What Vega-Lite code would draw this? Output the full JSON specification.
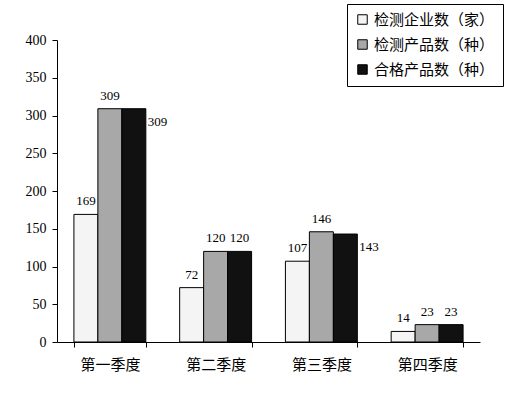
{
  "$schema": "https://vega.github.io/schema/vega-lite/v6.json",
  "width": 423,
  "height": 302,
  "autosize": {"type": "none"},
  "padding": {"left": 57, "top": 40, "right": 26, "bottom": 54},
  "background": "white",
  "config": {
    "view": {"stroke": null},
    "font": "Noto Sans CJK SC"
  },
  "data": {
    "values": [
      {"quarter": "第一季度", "series": "检测企业数（家）", "value": 169},
      {"quarter": "第一季度", "series": "检测产品数（种）", "value": 309},
      {"quarter": "第一季度", "series": "合格产品数（种）", "value": 309},
      {"quarter": "第二季度", "series": "检测企业数（家）", "value": 72},
      {"quarter": "第二季度", "series": "检测产品数（种）", "value": 120},
      {"quarter": "第二季度", "series": "合格产品数（种）", "value": 120},
      {"quarter": "第三季度", "series": "检测企业数（家）", "value": 107},
      {"quarter": "第三季度", "series": "检测产品数（种）", "value": 146},
      {"quarter": "第三季度", "series": "合格产品数（种）", "value": 143},
      {"quarter": "第四季度", "series": "检测企业数（家）", "value": 14},
      {"quarter": "第四季度", "series": "检测产品数（种）", "value": 23},
      {"quarter": "第四季度", "series": "合格产品数（种）", "value": 23}
    ]
  },
  "encoding": {
    "x": {
      "field": "quarter", "type": "nominal", "sort": null,
      "scale": {"paddingInner": 0.32, "paddingOuter": 0.16},
      "axis": {
        "title": null, "labelAngle": 0, "labelFontSize": 15, "labelColor": "black",
        "labelPadding": 10, "domainColor": "black", "tickColor": "black", "ticks": true,
        "tickSize": 5, "tickWidth": 1, "tickBand": "extent", "labelFont": "Noto Sans CJK SC",
        "encode": {"ticks": {"update": {"y2": {"value": -5}}}}
      }
    },
    "xOffset": {
      "field": "series", "type": "nominal",
      "sort": ["检测企业数（家）", "检测产品数（种）", "合格产品数（种）"],
      "scale": {"paddingInner": 0, "paddingOuter": 0}
    },
    "y": {
      "field": "value", "type": "quantitative",
      "scale": {"domain": [0, 400], "nice": false},
      "axis": {
        "title": null, "grid": false, "values": [0, 50, 100, 150, 200, 250, 300, 350, 400],
        "labelFontSize": 14, "labelColor": "black", "labelFont": "Liberation Serif",
        "domainColor": "black", "tickColor": "black", "tickSize": 5, "labelPadding": 6
      }
    }
  },
  "layer": [
    {
      "mark": {"type": "bar", "stroke": "black", "strokeWidth": 1},
      "encoding": {
        "fill": {
          "field": "series", "type": "nominal",
          "sort": ["检测企业数（家）", "检测产品数（种）", "合格产品数（种）"],
          "scale": {"range": ["#f4f4f4", "#a8a8a8", "#111111"]},
          "legend": {
            "title": null, "orient": "none", "legendX": 290, "legendY": -36,
            "strokeColor": "black", "fillColor": "white", "padding": 8,
            "symbolType": "square", "symbolSize": 90, "symbolStrokeColor": "black",
            "symbolStrokeWidth": 1, "labelFontSize": 15, "labelColor": "black",
            "rowPadding": 9, "labelOffset": 4, "labelFont": "Noto Sans CJK SC"
          }
        }
      }
    },
    {
      "transform": [{"filter": "!(datum.series === '合格产品数（种）' && (datum.quarter === '第一季度' || datum.quarter === '第三季度'))"}],
      "mark": {"type": "text", "baseline": "bottom", "dy": -6, "fontSize": 13, "font": "Liberation Serif", "color": "black"},
      "encoding": {"text": {"field": "value", "type": "quantitative"}}
    },
    {
      "transform": [{"filter": "datum.series === '合格产品数（种）' && (datum.quarter === '第一季度' || datum.quarter === '第三季度')"}],
      "mark": {"type": "text", "baseline": "top", "align": "left", "dx": 14, "dy": 7, "fontSize": 13, "font": "Liberation Serif", "color": "black"},
      "encoding": {"text": {"field": "value", "type": "quantitative"}}
    }
  ]
}
